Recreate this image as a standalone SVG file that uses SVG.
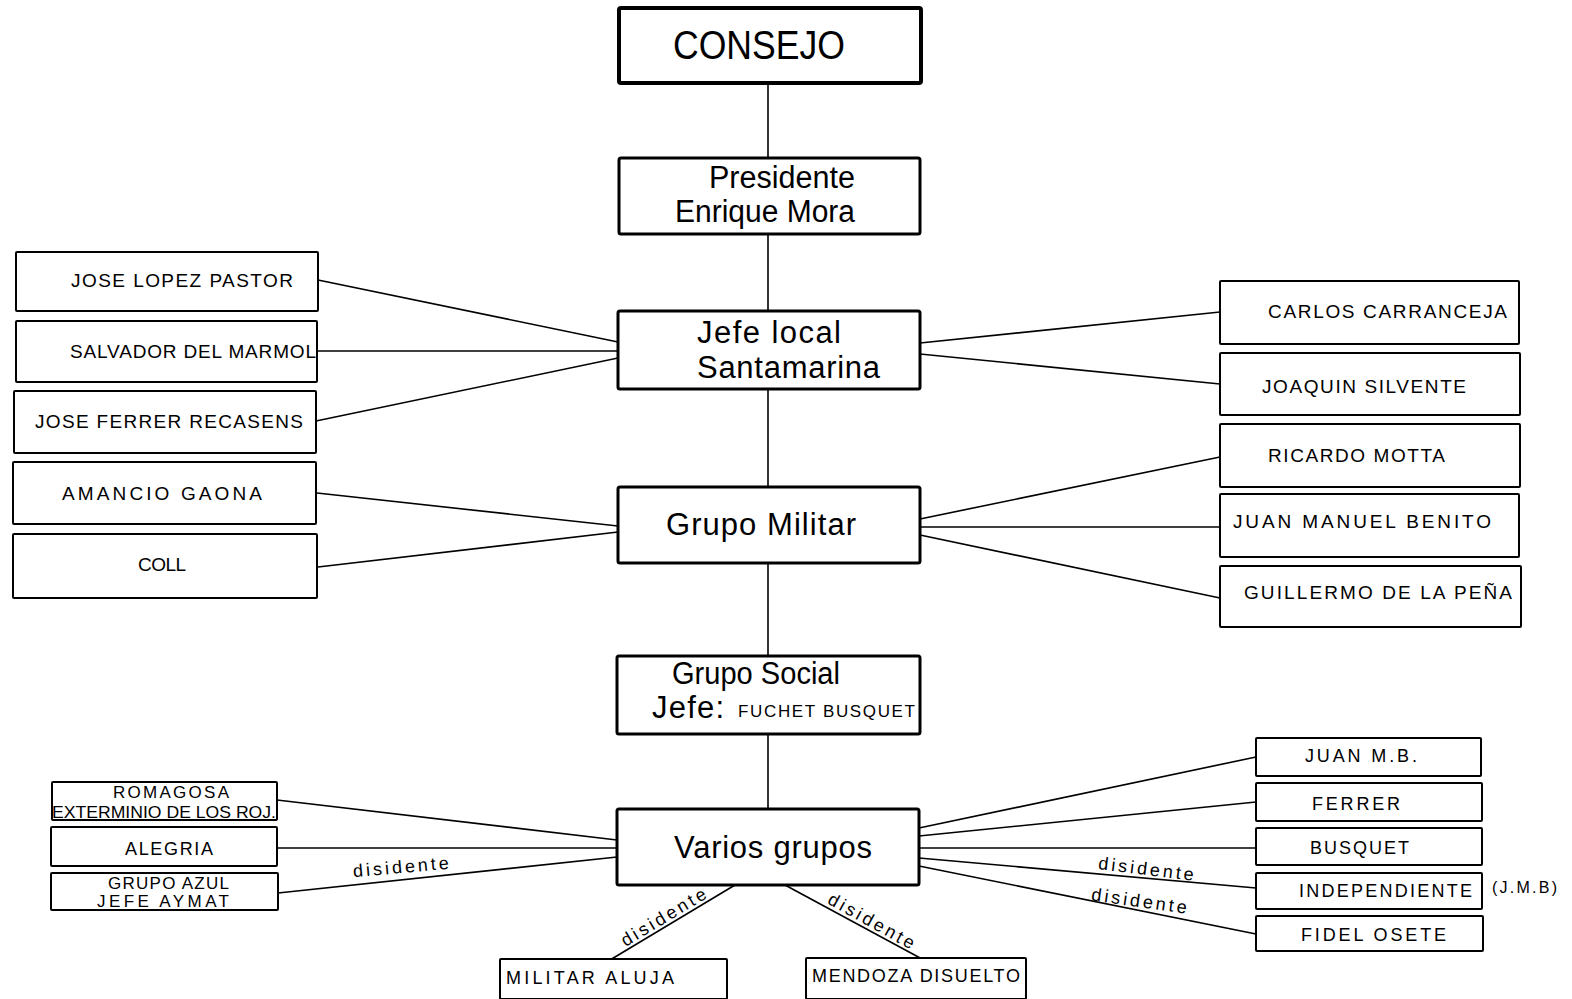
<svg xmlns="http://www.w3.org/2000/svg" width="1572" height="999" viewBox="0 0 1572 999">
<style>
.bg{fill:#fff}
.main{fill:#fff;stroke:#000;stroke-width:3}
.box{fill:#fff;stroke:#000;stroke-width:2}
.t{font-family:"Liberation Sans","DejaVu Sans",sans-serif;fill:#000}
.big{font-size:31px}
.nm{font-size:19px}
.sm{font-size:18px}
.sm2{font-size:17px}
.lbl{font-family:"Liberation Sans","DejaVu Sans",sans-serif;font-size:18px;fill:#000}
.c{fill:none;stroke:#000;stroke-width:1.6}
</style>
<rect class="bg" x="0" y="0" width="1572" height="999"/>
<g id="connectors">
<line class="c" x1="768" y1="83" x2="768" y2="809"/>
<line class="c" x1="318" y1="280" x2="618" y2="342"/>
<line class="c" x1="317" y1="351" x2="618" y2="351"/>
<line class="c" x1="316" y1="421" x2="618" y2="358"/>
<line class="c" x1="317" y1="493" x2="618" y2="526"/>
<line class="c" x1="318" y1="567" x2="618" y2="532"/>
<line class="c" x1="920" y1="343" x2="1220" y2="312"/>
<line class="c" x1="920" y1="354" x2="1220" y2="384"/>
<line class="c" x1="920" y1="519" x2="1220" y2="457"/>
<line class="c" x1="920" y1="527" x2="1220" y2="527"/>
<line class="c" x1="920" y1="535" x2="1220" y2="598"/>
<line class="c" x1="277" y1="800" x2="617" y2="840"/>
<line class="c" x1="277" y1="848" x2="617" y2="848"/>
<line class="c" x1="278" y1="893" x2="617" y2="857"/>
<line class="c" x1="919" y1="828" x2="1256" y2="757"/>
<line class="c" x1="919" y1="836" x2="1256" y2="802"/>
<line class="c" x1="919" y1="848" x2="1256" y2="848"/>
<line class="c" x1="919" y1="858" x2="1256" y2="888"/>
<line class="c" x1="919" y1="866" x2="1256" y2="934"/>
<line class="c" x1="735" y1="885" x2="610" y2="960"/>
<line class="c" x1="785" y1="885" x2="922" y2="959"/>
<text class="lbl" x="401" y="873" text-anchor="middle" transform="rotate(-5 401 868)" textLength="96">disidente</text>
<text class="lbl" x="1146" y="875" text-anchor="middle" transform="rotate(7 1146 870)" textLength="96">disidente</text>
<text class="lbl" x="1139" y="907" text-anchor="middle" transform="rotate(8 1139 902)" textLength="96">disidente</text>
<text class="lbl" x="664" y="923" text-anchor="middle" transform="rotate(-31 664 918)" textLength="96">disidente</text>
<text class="lbl" x="871" y="927" text-anchor="middle" transform="rotate(29 871 922)" textLength="96">disidente</text>
</g>
<g id="consejo">
<rect class="main" x="619" y="8" width="302" height="75" rx="2" style="stroke-width:4"/>
<text class="t" x="673" y="59" font-size="40" textLength="172" lengthAdjust="spacingAndGlyphs">CONSEJO</text>
</g>
<g id="presidente">
<rect class="main" x="619" y="158" width="301" height="76" rx="2"/>
<text class="t big" x="709" y="188" textLength="146" lengthAdjust="spacingAndGlyphs">Presidente</text>
<text class="t big" x="675" y="222" textLength="180" lengthAdjust="spacingAndGlyphs">Enrique Mora</text>
</g>
<g id="jefe-local">
<rect class="main" x="618" y="311" width="302" height="78" rx="2"/>
<text class="t big" x="697" y="343" textLength="144">Jefe local</text>
<text class="t big" x="697" y="378" textLength="183">Santamarina</text>
</g>
<g id="grupo-militar">
<rect class="main" x="618" y="487" width="302" height="76" rx="2"/>
<text class="t big" x="666" y="535" textLength="190">Grupo Militar</text>
</g>
<g id="grupo-social">
<rect class="main" x="617" y="656" width="303" height="78" rx="2"/>
<text class="t big" x="672" y="684" textLength="168" lengthAdjust="spacingAndGlyphs">Grupo Social</text>
<text class="t big" x="652" y="718" textLength="72">Jefe:</text>
<text class="t" x="738" y="717" font-size="17" textLength="177">FUCHET BUSQUET</text>
</g>
<g id="varios-grupos">
<rect class="main" x="617" y="809" width="302" height="76" rx="2"/>
<text class="t big" x="674" y="858" textLength="198">Varios grupos</text>
</g>
<g id="jose-lopez-pastor">
<rect class="box" x="16" y="252" width="302" height="59" rx="1"/>
<text class="t nm" x="71" y="287" textLength="222">JOSE LOPEZ PASTOR</text>
</g>
<g id="salvador-del-marmol">
<rect class="box" x="16" y="321" width="301" height="61" rx="1"/>
<text class="t nm" x="70" y="358" textLength="246">SALVADOR DEL MARMOL</text>
</g>
<g id="jose-ferrer-recasens">
<rect class="box" x="14" y="391" width="302" height="62" rx="1"/>
<text class="t nm" x="35" y="428" textLength="268">JOSE FERRER RECASENS</text>
</g>
<g id="amancio-gaona">
<rect class="box" x="13" y="462" width="303" height="62" rx="1"/>
<text class="t nm" x="62" y="500" textLength="200">AMANCIO GAONA</text>
</g>
<g id="coll">
<rect class="box" x="13" y="534" width="304" height="64" rx="1"/>
<text class="t nm" x="138" y="571" textLength="48">COLL</text>
</g>
<g id="carlos-carranceja">
<rect class="box" x="1220" y="281" width="299" height="63" rx="1"/>
<text class="t nm" x="1268" y="318" textLength="239">CARLOS CARRANCEJA</text>
</g>
<g id="joaquin-silvente">
<rect class="box" x="1220" y="353" width="300" height="62" rx="1"/>
<text class="t nm" x="1262" y="393" textLength="204">JOAQUIN SILVENTE</text>
</g>
<g id="ricardo-motta">
<rect class="box" x="1220" y="424" width="300" height="63" rx="1"/>
<text class="t nm" x="1268" y="462" textLength="177">RICARDO MOTTA</text>
</g>
<g id="juan-manuel-benito">
<rect class="box" x="1220" y="494" width="299" height="63" rx="1"/>
<text class="t nm" x="1233" y="528" textLength="258">JUAN MANUEL BENITO</text>
</g>
<g id="guillermo-de-la-pena">
<rect class="box" x="1220" y="566" width="301" height="61" rx="1"/>
<text class="t nm" x="1244" y="599" textLength="268">GUILLERMO DE LA PEÑA</text>
</g>
<g id="romagosa">
<rect class="box" x="52" y="782" width="225" height="38" rx="1"/>
<text class="t sm2" x="113" y="798" textLength="116">ROMAGOSA</text>
<text class="t sm2" x="52" y="818" textLength="224" lengthAdjust="spacingAndGlyphs">EXTERMINIO DE LOS ROJ.</text>
</g>
<g id="alegria">
<rect class="box" x="51" y="827" width="226" height="39" rx="1"/>
<text class="t sm" x="125" y="855" textLength="88">ALEGRIA</text>
</g>
<g id="grupo-azul">
<rect class="box" x="51" y="873" width="227" height="37" rx="1"/>
<text class="t sm2" x="108" y="889" textLength="121">GRUPO AZUL</text>
<text class="t sm2" x="97" y="907" textLength="132">JEFE AYMAT</text>
</g>
<g id="juan-mb">
<rect class="box" x="1256" y="738" width="225" height="38" rx="1"/>
<text class="t sm" x="1305" y="762" textLength="112">JUAN M.B.</text>
</g>
<g id="ferrer">
<rect class="box" x="1256" y="783" width="226" height="38" rx="1"/>
<text class="t sm" x="1312" y="810" textLength="88">FERRER</text>
</g>
<g id="busquet">
<rect class="box" x="1256" y="828" width="226" height="37" rx="1"/>
<text class="t sm" x="1310" y="854" textLength="99">BUSQUET</text>
</g>
<g id="independiente">
<rect class="box" x="1256" y="873" width="226" height="36" rx="1"/>
<text class="t sm" x="1299" y="897" textLength="173">INDEPENDIENTE</text>
<text class="t" x="1492" y="893" font-size="16" textLength="65">(J.M.B)</text>
</g>
<g id="fidel-osete">
<rect class="box" x="1256" y="916" width="227" height="35" rx="1"/>
<text class="t sm" x="1301" y="941" textLength="145">FIDEL OSETE</text>
</g>
<g id="militar-aluja">
<rect class="box" x="500" y="959" width="227" height="40" rx="1"/>
<text class="t sm" x="506" y="984" textLength="168">MILITAR ALUJA</text>
</g>
<g id="mendoza-disuelto">
<rect class="box" x="806" y="958" width="220" height="41" rx="1"/>
<text class="t sm" x="812" y="982" textLength="208">MENDOZA DISUELTO</text>
</g>
</svg>
